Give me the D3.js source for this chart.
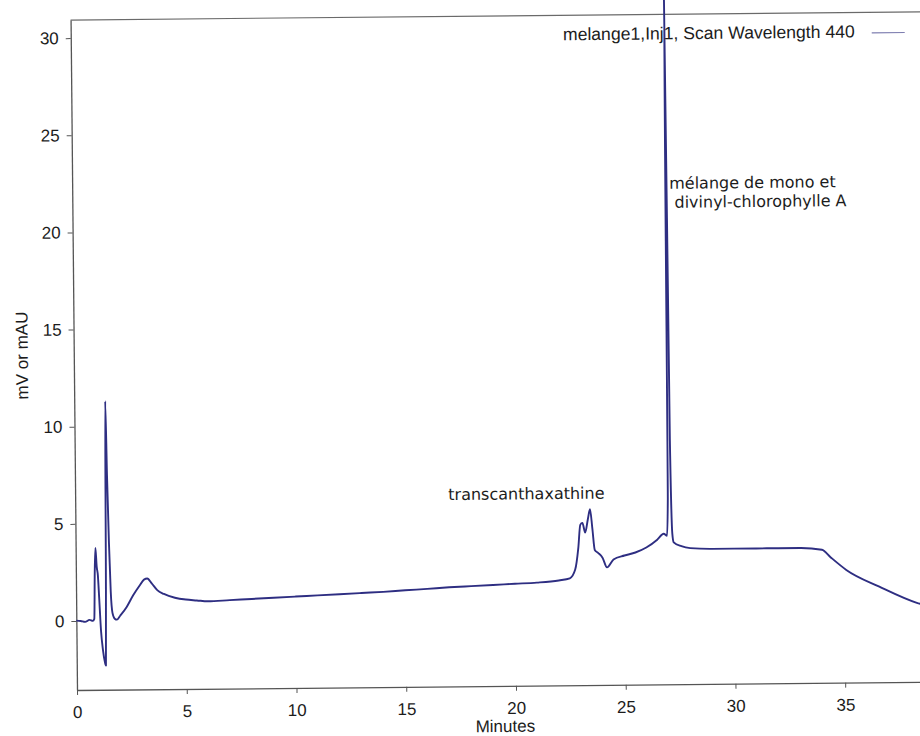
<!DOCTYPE html>
<meta charset="utf-8">
<script src="https://d3js.org/d3.v7.min.js"></script>
<style>
  body { margin: 0; background: #fff; }
  .tick text { font-family: "Liberation Sans", Arial, sans-serif; font-size: 17px; fill: #1c1c1c; }
  .ann { font-family: "DejaVu Sans", Verdana, sans-serif; font-size: 16px; fill: #1c1c1c; }
</style>
<div id="chart"></div>
<script>

// chromatogram (minutes, mV)
var minutes = [0, 0.2, 0.4, 0.6, 0.75, 0.82, 0.86, 0.9, 0.95, 1.0, 1.05, 1.12, 1.2, 1.28, 1.33, 1.37, 1.41, 1.46, 1.52, 1.58, 1.65, 1.75, 1.85,
  2.0, 2.3, 2.6, 2.9, 3.1, 3.25, 3.45, 3.7, 4.0, 4.5, 5.0, 5.5, 6, 7, 8, 9, 10, 11, 12, 13, 14, 15, 16, 17, 18, 19, 20, 21, 22, 22.5,
  22.75, 22.9, 23.0, 23.1, 23.22, 23.35, 23.45, 23.55, 23.65, 23.8, 24.0, 24.2, 24.5, 25.0, 25.5, 26.0, 26.5, 26.8, 26.95,
  27.0, 27.04, 27.12, 27.19, 27.25, 27.6, 28, 29, 30, 31, 32, 33, 34.0, 34.4, 35.1, 36.6, 38.3, 39];
var signal = [0.02, 0.0, -0.05, 0.05, 0.0, 0.1, 2.5, 3.75, 2.8, 2.35, 1.2, -0.5, -1.5, -2.1, -2.3, 3.0, 11.3, 7.5, 4.0, 1.5, 0.4, 0.1, 0.05,
  0.25, 0.7, 1.3, 1.8, 2.1, 2.15, 1.9, 1.55, 1.35, 1.15, 1.05, 1.0, 0.95, 1.0, 1.05, 1.1, 1.15, 1.2, 1.25, 1.3, 1.35, 1.42, 1.48, 1.55, 1.6, 1.65, 1.7, 1.75, 1.85, 1.95,
  2.4, 3.5, 4.7, 4.8, 4.3, 5.0, 5.5, 4.5, 3.4, 3.25, 3.0, 2.5, 2.9, 3.1, 3.25, 3.5, 3.9, 4.2, 4.1,
  6.0, 32.5, 9.0, 4.2, 3.75, 3.55, 3.45, 3.4, 3.4, 3.4, 3.4, 3.4, 3.3, 2.9, 2.25, 1.37, 0.52, 0.3];

var xTicks = [0, 5, 10, 15, 20, 25, 30, 35];
var yTicks = [0, 5, 10, 15, 20, 25, 30];
var legendLabel = "melange1,Inj1, Scan Wavelength 440";
var xTitle = "Minutes";
var yTitle = "mV or mAU";
var peakA = ["transcanthaxathine"];
var peakB = ["mélange de mono et", " divinyl-chlorophylle A"];

var data = minutes.map(function(m, i) { return {t: m, v: signal[i]}; });

var W = 920, H = 736;
var margin = {top: 20, left: 77, bottom: 46};
var width = 856, height = H - margin.top - margin.bottom;

var svg = d3.select("#chart").append("svg")
  .attr("width", W)
  .attr("height", H);

// the scan is tilted a little
var g = svg.append("g")
  .attr("transform", "rotate(-0.55," + margin.left + "," + (margin.top + height) + ") translate(" + margin.left + "," + margin.top + ")");

var x = d3.scaleLinear().domain([0, 39]).range([0, width]);
var y = d3.scaleLinear().domain([-3.55, 30.93]).range([height, 0]);

// frame top line
g.append("line")
  .attr("x1", 0).attr("x2", width)
  .attr("y1", 0).attr("y2", 0)
  .attr("stroke", "#6a6a6a").attr("stroke-width", 1.2);

var xAxis = g.append("g")
  .attr("transform", "translate(0," + height + ")")
  .call(d3.axisBottom(x).tickValues(xTicks).tickSize(5).tickPadding(11).tickSizeOuter(0));

var yAxis = g.append("g")
  .call(d3.axisLeft(y).tickValues(yTicks).tickSize(5).tickPadding(7).tickSizeOuter(0));

[xAxis, yAxis].forEach(function(a) {
  a.select(".domain").attr("stroke", "#555").attr("stroke-width", 1.3);
  a.selectAll(".tick line").attr("stroke", "#555");
  a.attr("font-family", null).attr("font-size", null);
});

g.append("text")
  .attr("x", x(19.5))
  .attr("y", height + 46)
  .attr("text-anchor", "middle")
  .style("font-family", "Liberation Sans, Arial, sans-serif")
  .style("font-size", "17px")
  .style("fill", "#1c1c1c")
  .text(xTitle);

g.append("text")
  .attr("transform", "translate(-46," + (height / 2) + ") rotate(-90)")
  .attr("text-anchor", "middle")
  .style("font-family", "Liberation Sans, Arial, sans-serif")
  .style("font-size", "17px")
  .style("fill", "#1c1c1c")
  .text(yTitle);

// trace
var line = d3.line()
  .x(function(d) { return x(d.t); })
  .y(function(d) { return y(d.v); })
  .curve(d3.curveMonotoneX);

g.append("path")
  .datum(data)
  .attr("fill", "none")
  .attr("stroke", "#2e2e82")
  .attr("stroke-width", 1.9)
  .attr("stroke-linejoin", "round")
  .attr("d", line);

// legend
g.append("text")
  .attr("x", 784)
  .attr("y", 25)
  .attr("text-anchor", "end")
  .style("font-family", "Liberation Sans, Arial, sans-serif")
  .style("font-size", "17.6px")
  .style("fill", "#1c1c1c")
  .text(legendLabel);
g.append("line")
  .attr("x1", 801).attr("x2", 834)
  .attr("y1", 20.5).attr("y2", 20.5)
  .attr("stroke", "#7e7eb0").attr("stroke-width", 1.2);

// peak labels
g.append("text")
  .attr("class", "ann")
  .attr("x", x(17.0))
  .attr("y", y(6.04))
  .text(peakA[0]);

var tb = g.append("text")
  .attr("class", "ann")
  .attr("x", x(27.2))
  .attr("y", y(21.95));
tb.append("tspan").attr("x", x(27.2)).text(peakB[0]);
tb.append("tspan").attr("x", x(27.2)).attr("dy", 19).attr("xml:space", "preserve").text(peakB[1]);

</script>
